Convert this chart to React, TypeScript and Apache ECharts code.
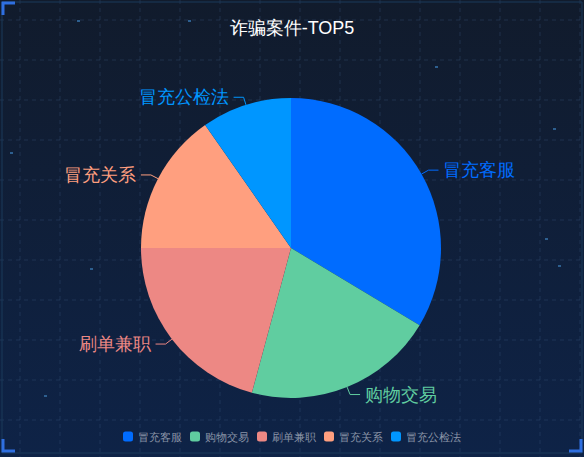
import React, { useEffect, useRef } from "react";
import * as echarts from "echarts";

const categories = ["冒充客服", "购物交易", "刷单兼职", "冒充关系", "冒充公检法"];
const values = [336, 206, 208, 153, 97];
const colors = ["#006cff", "#60cda0", "#ed8884", "#ff9f7f", "#0096ff"];
const stars = [[435, 66], [553, 128], [10, 152], [90, 268], [545, 238], [44, 395], [558, 265], [77, 20], [188, 20]];

export default function App() {
  const ref = useRef<HTMLDivElement>(null);
  useEffect(() => {
    document.body.style.margin = "0";
    const chart = echarts.init(ref.current!, null, { renderer: "svg" });
    const W = 584, H = 457;
    const grid: any[] = [];
    for (let x = 20; x < W; x += 40) grid.push({ type: "line", shape: { x1: x, y1: 0, x2: x, y2: H }, style: { stroke: "rgba(60,90,130,0.35)", lineDash: [4, 4], lineWidth: 1 }, silent: true, z: -10 });
    for (let y = 20; y < H; y += 40) grid.push({ type: "line", shape: { x1: 0, y1: y, x2: W, y2: y }, style: { stroke: "rgba(60,90,130,0.35)", lineDash: [4, 4], lineWidth: 1 }, silent: true, z: -10 });
    const corner = (pts: number[][]) => ({ type: "polyline", shape: { points: pts }, style: { stroke: "#2f6fe0", lineWidth: 3, fill: "none" }, z: 5 });
    chart.setOption({
      animation: false,
      backgroundColor: new echarts.graphic.LinearGradient(0, 0, 0, 1, [
        { offset: 0, color: "#111b2c" },
        { offset: 1, color: "#0e2347" },
      ]),
      title: { text: "诈骗案件-TOP5", left: "center", top: 14, textStyle: { color: "#fff", fontSize: 18, fontWeight: "normal" } },
      legend: {
        bottom: 10, itemWidth: 10, itemHeight: 10, itemGap: 8, icon: "roundRect",
        textStyle: { color: "#8a94a6", fontSize: 11 }, data: categories,
      },
      color: colors,
      graphic: [
        ...grid,
        { type: "rect", shape: { x: 2, y: 2, width: W - 4, height: H - 6 }, style: { stroke: "#1a3a5a", fill: "none", lineWidth: 1 }, z: -5 },
        ...stars.map(([x, y]) => ({ type: "rect", shape: { x, y, width: 3, height: 2 }, style: { fill: "#2d5f8f" }, z: -5 })),
        corner([[3, 15], [3, 3], [15, 3]]),
        corner([[3, 439], [3, 451], [15, 451]]),
        corner([[569, 451], [581, 451], [581, 439]]),
      ],
      series: [{
        type: "pie", radius: 150, center: [291, 248], startAngle: 90, clockwise: true,
        data: categories.map((n, i) => ({ name: n, value: values[i] })),
        label: { color: "inherit", fontSize: 18 },
        labelLine: { length: 8, length2: 10 },
      }],
    });
    return () => chart.dispose();
  }, []);
  return <div ref={ref} style={{ width: 584, height: 457 }} />;
}
